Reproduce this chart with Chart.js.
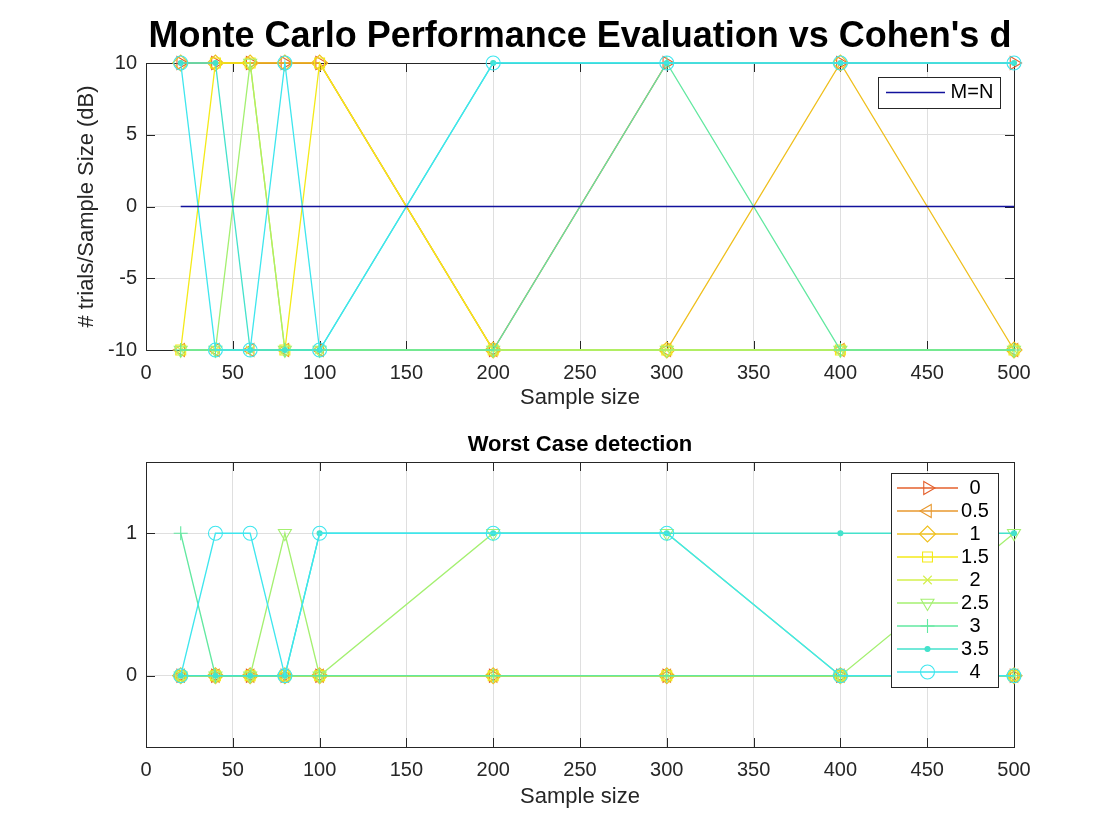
<!DOCTYPE html>
<html>
<head>
<meta charset="utf-8">
<title>Monte Carlo Performance Evaluation vs Cohen's d</title>
<script src="https://cdn.jsdelivr.net/npm/chart.js@4.4.1/dist/chart.umd.min.js"></script>
<style>
  html, body { margin: 0; padding: 0; background: #fff; }
  #wrap { position: relative; width: 1120px; height: 840px; }
  .panel { position: absolute; left: 0; width: 1120px; height: 420px; }
</style>
</head>
<body>
<div id="wrap">
  <div class="panel" style="top:0"><canvas id="topChart" width="1120" height="420"></canvas></div>
  <div class="panel" style="top:420px"><canvas id="bottomChart" width="1120" height="420"></canvas></div>
</div>
<script>
// x values shared by every series
const sampleSizes = [20, 40, 60, 80, 100, 200, 300, 400, 500];
// legend labels (Cohen's d)
const cohensD = ["0", "0.5", "1", "1.5", "2", "2.5", "3", "3.5", "4"];

// top plot: # trials / sample size in dB, one array per Cohen's d
const dB_d0   = [10, 10, 10, 10, 10, -10, 10, 10, 10];
const dB_d05  = [-10, -10, -10, -10, -10, -10, -10, -10, -10];
const dB_d1   = [10, 10, 10, 10, 10, -10, -10, 10, -10];
const dB_d15  = [-10, 10, 10, -10, 10, -10, -10, -10, -10];
const dB_d2   = [-10, -10, -10, -10, -10, -10, -10, -10, -10];
const dB_d25  = [-10, -10, 10, -10, -10, -10, -10, -10, -10];
const dB_d3   = [-10, -10, -10, -10, -10, -10, 10, -10, -10];
const dB_d35  = [10, 10, -10, -10, -10, 10, 10, 10, 10];
const dB_d4   = [10, -10, -10, 10, -10, 10, 10, 10, 10];
const mEqualsN = [0, 0, 0, 0, 0, 0, 0, 0, 0];

// bottom plot: worst case detection
const det_d0  = [0, 0, 0, 0, 0, 0, 0, 0, 0];
const det_d05 = [0, 0, 0, 0, 0, 0, 0, 0, 0];
const det_d1  = [0, 0, 0, 0, 0, 0, 0, 0, 0];
const det_d15 = [0, 0, 0, 0, 0, 0, 0, 0, 0];
const det_d2  = [0, 0, 0, 0, 0, 0, 0, 0, 0];
const det_d25 = [0, 0, 0, 1, 0, 1, 1, 0, 1];
const det_d3  = [1, 0, 0, 0, 0, 0, 0, 0, 0];
const det_d35 = [0, 0, 0, 0, 1, 1, 1, 1, 1];
const det_d4  = [0, 1, 1, 0, 1, 1, 1, 0, 0];

// tick labels
const xTicks = [0, 50, 100, 150, 200, 250, 300, 350, 400, 450, 500];
const yTicksTop = [-10, -5, 0, 5, 10];
const yTicksBottom = [0, 1];

const topSeries = [dB_d0, dB_d05, dB_d1, dB_d15, dB_d2, dB_d25, dB_d3, dB_d35, dB_d4];
const bottomSeries = [det_d0, det_d05, det_d1, det_d15, det_d2, det_d25, det_d3, det_d35, det_d4];

const seriesColors = ['#e4602c', '#e8982e', '#efbf1c', '#f4ea18', '#d4f04c', '#a4f070', '#62e8a0', '#44e2cc', '#3ee6ee'];
const markers = [
  { pointStyle: 'triangle', rotation: 90, radius: 7.5 },
  { pointStyle: 'triangle', rotation: -90, radius: 7.5 },
  { pointStyle: 'rectRot', rotation: 0, radius: 8 },
  { pointStyle: 'rect', rotation: 0, radius: 7 },
  { pointStyle: 'crossRot', rotation: 0, radius: 6 },
  { pointStyle: 'triangle', rotation: 180, radius: 7.5 },
  { pointStyle: 'cross', rotation: 0, radius: 7 },
  { pointStyle: 'circle', rotation: 0, radius: 2.5, filled: true },
  { pointStyle: 'circle', rotation: 0, radius: 7 },
];

const FONT = "'Liberation Sans', Arial, Helvetica, sans-serif";
const AXIS = '#262626';
const GRID = '#dfdfdf';
const LW = 1.3;

function makeSet(label, values, i) {
  const m = markers[i];
  const fillCol = m.filled ? seriesColors[i] : 'rgba(0,0,0,0)';
  return {
    label: label,
    data: sampleSizes.map((x, k) => ({ x: x, y: values[k] })),
    borderColor: seriesColors[i],
    backgroundColor: fillCol,
    borderWidth: LW,
    pointStyle: m.pointStyle,
    pointRotation: m.rotation,
    pointRadius: m.radius,
    pointBorderWidth: 1.1,
    pointBorderColor: seriesColors[i],
    pointBackgroundColor: fillCol,
    tension: 0,
    fill: false,
    clip: false,
    order: 20 - i,   // later series drawn on top, like the original
  };
}

// axes box and inward tick marks, drawn under the data
const framePlugin = {
  id: 'frame',
  beforeDatasetsDraw(chart) {
    const { ctx, chartArea: a } = chart;
    const x = chart.scales.x, y = chart.scales.y;
    const L = 9;
    ctx.save();
    ctx.strokeStyle = AXIS;
    ctx.lineWidth = 1;
    ctx.beginPath();
    x.ticks.forEach(t => {
      const px = Math.round(x.getPixelForValue(t.value)) + 0.5;
      ctx.moveTo(px, a.bottom); ctx.lineTo(px, a.bottom - L);
      ctx.moveTo(px, a.top); ctx.lineTo(px, a.top + L);
    });
    y.ticks.forEach(t => {
      const py = Math.round(y.getPixelForValue(t.value)) + 0.5;
      ctx.moveTo(a.left, py); ctx.lineTo(a.left + L, py);
      ctx.moveTo(a.right, py); ctx.lineTo(a.right - L, py);
    });
    ctx.stroke();
    ctx.strokeRect(Math.round(a.left) + 0.5, Math.round(a.top) + 0.5,
      Math.round(a.right - a.left), Math.round(a.bottom - a.top));
    ctx.restore();
  }
};

// boxed legend inside the axes
const boxLegendPlugin = {
  id: 'boxLegend',
  afterDatasetsDraw(chart, args, opts) {
    if (!opts || !opts.display) return;
    const { ctx, chartArea: a } = chart;
    const sets = chart.data.datasets;
    const n = sets.length;
    const left = Math.round(a.right - opts.fromRight);
    const top = Math.round(a.top + opts.fromTop);
    const h = opts.padY * 2 + (n - 1) * opts.rowHeight;
    ctx.save();
    ctx.fillStyle = '#fff';
    ctx.fillRect(left, top, opts.width, h);
    ctx.strokeStyle = AXIS;
    ctx.lineWidth = 1;
    ctx.strokeRect(left + 0.5, top + 0.5, opts.width, h);
    sets.forEach((ds, i) => {
      const cy = top + opts.padY + i * opts.rowHeight;
      ctx.strokeStyle = ds.borderColor;
      ctx.lineWidth = LW;
      ctx.beginPath();
      ctx.moveTo(left + opts.lineX0, cy);
      ctx.lineTo(left + opts.lineX1, cy);
      ctx.stroke();
      if (ds.pointRadius > 0 && Chart.helpers && Chart.helpers.drawPoint) {
        ctx.fillStyle = ds.pointBackgroundColor;
        ctx.strokeStyle = ds.pointBorderColor;
        ctx.lineWidth = 1.1;
        Chart.helpers.drawPoint(ctx, {
          pointStyle: ds.pointStyle, rotation: ds.pointRotation,
          radius: ds.pointRadius, borderWidth: 1.1
        }, left + (opts.lineX0 + opts.lineX1) / 2, cy);
      }
      ctx.fillStyle = '#000';
      ctx.font = opts.fontSize + 'px ' + FONT;
      ctx.textAlign = 'center';
      ctx.textBaseline = 'middle';
      ctx.fillText(ds.label, left + opts.textX, cy);
    });
    ctx.restore();
  }
};

function axes(yMin, yMax, yTicks, yTitle, xHeight, xTitlePad) {
  return {
    x: {
      type: 'linear', min: 0, max: 500,
      afterBuildTicks: s => { s.ticks = xTicks.map(v => ({ value: v })); },
      afterFit: s => { s.height = xHeight; },
      ticks: { font: { family: FONT, size: 20 }, color: AXIS, padding: 11, maxRotation: 0, autoSkip: false },
      grid: { color: GRID, drawTicks: false },
      border: { display: false },
      title: { display: true, text: 'Sample size', color: AXIS,
        font: { family: FONT, size: 22 }, padding: { top: 0, bottom: xTitlePad } }
    },
    y: {
      type: 'linear', min: yMin, max: yMax,
      afterBuildTicks: s => { s.ticks = yTicks.map(v => ({ value: v })); },
      afterFit: s => { s.width = 146; },
      ticks: { font: { family: FONT, size: 20 }, color: AXIS, padding: 9 },
      grid: { color: GRID, drawTicks: false },
      border: { display: false },
      title: { display: !!yTitle, text: yTitle, color: AXIS,
        font: { family: FONT, size: 22 }, padding: { top: 74, bottom: 0 } }
    }
  };
}

const topSets = topSeries.map((vals, i) => makeSet(cohensD[i], vals, i));

new Chart(document.getElementById('topChart'), {
  type: 'line',
  data: {
    datasets: topSets.concat([{
      label: 'M=N',
      data: sampleSizes.map((x, k) => ({ x: x, y: mEqualsN[k] })),
      borderColor: '#12129c',
      backgroundColor: '#12129c',
      borderWidth: LW,
      pointRadius: 0,
      tension: 0,
      fill: false,
      clip: false,
      order: 0
    }])
  },
  options: {
    responsive: false,
    animation: false,
    events: [],
    layout: { padding: { left: 0, right: 106, top: 0, bottom: 0 } },
    scales: axes(-10, 10, yTicksTop, '# trials/Sample Size (dB)', 70, 9),
    plugins: {
      legend: { display: false },
      tooltip: { enabled: false },
      title: {
        display: true, fullSize: false,
        text: "Monte Carlo Performance Evaluation vs Cohen's d",
        color: '#000',
        font: { family: FONT, size: 36, weight: 'bold', lineHeight: 1 },
        padding: { top: 19, bottom: 8 }
      },
      boxLegend: { display: false }
    }
  },
  plugins: [framePlugin, {
    id: 'mnLegend',
    afterDatasetsDraw(chart) {
      // legend for the M=N line only
      const { ctx, chartArea: a } = chart;
      const ds = chart.data.datasets[chart.data.datasets.length - 1];
      const left = Math.round(a.right - 136), top = Math.round(a.top + 14), w = 122, h = 31;
      ctx.save();
      ctx.fillStyle = '#fff';
      ctx.fillRect(left, top, w, h);
      ctx.strokeStyle = AXIS;
      ctx.lineWidth = 1;
      ctx.strokeRect(left + 0.5, top + 0.5, w, h);
      const cy = top + h / 2;
      ctx.strokeStyle = ds.borderColor;
      ctx.lineWidth = LW;
      ctx.beginPath();
      ctx.moveTo(left + 8, cy); ctx.lineTo(left + 67, cy);
      ctx.stroke();
      ctx.fillStyle = '#000';
      ctx.font = '20px ' + FONT;
      ctx.textAlign = 'center';
      ctx.textBaseline = 'middle';
      ctx.fillText(ds.label, left + 94, cy);
      ctx.restore();
    }
  }]
});

new Chart(document.getElementById('bottomChart'), {
  type: 'line',
  data: { datasets: bottomSeries.map((vals, i) => makeSet(cohensD[i], vals, i)) },
  options: {
    responsive: false,
    animation: false,
    events: [],
    layout: { padding: { left: 0, right: 106, top: 0, bottom: 0 } },
    scales: axes(-0.5, 1.5, yTicksBottom, '', 93, 30),
    plugins: {
      legend: { display: false },
      tooltip: { enabled: false },
      title: {
        display: true, fullSize: false,
        text: 'Worst Case detection',
        color: '#000',
        font: { family: FONT, size: 22, weight: 'bold', lineHeight: 1 },
        padding: { top: 14, bottom: 6 }
      },
      boxLegend: {
        display: true, fromRight: 123, fromTop: 11, width: 107,
        rowHeight: 23, padY: 15, lineX0: 6, lineX1: 67, textX: 84, fontSize: 20
      }
    }
  },
  plugins: [framePlugin, boxLegendPlugin]
});
</script>
</body>
</html>
